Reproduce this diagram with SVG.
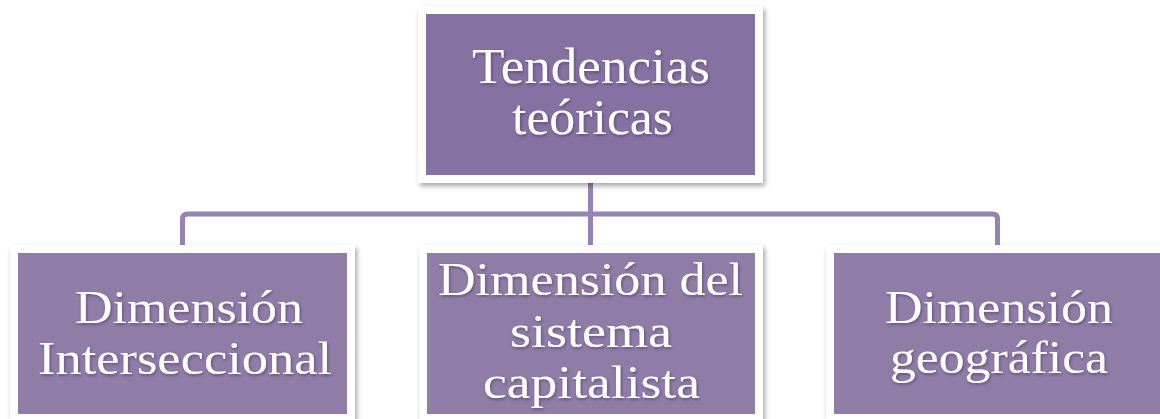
<svg xmlns="http://www.w3.org/2000/svg" width="1160" height="419" viewBox="0 0 1160 419">
  <defs>
    <filter id="boxShadow" x="-10%" y="-10%" width="120%" height="125%">
      <feDropShadow dx="2" dy="3" stdDeviation="2.5" flood-color="#000" flood-opacity="0.35"/>
    </filter>
    <filter id="txtShadow" x="-10%" y="-20%" width="120%" height="150%">
      <feDropShadow dx="1" dy="1.5" stdDeviation="1.5" flood-color="#2a1a40" flood-opacity="0.45"/>
    </filter>
  </defs>
  <style>
    .frame { fill: #ffffff; filter: url(#boxShadow); }
    .top { fill: #8672A2; }
    .bot { fill: #8F7DA8; }
    .lbl { font-family: "Liberation Serif", "Times New Roman", serif; fill: #ffffff; text-anchor: middle; filter: url(#txtShadow); }
    .big { font-size: 50px; }
    .med { font-size: 47px; }
    .conn { fill: none; stroke: #9782B4; stroke-width: 5; }
  </style>
  <rect width="1160" height="419" fill="#ffffff"/>
  <g id="connectors">
    <path class="conn" d="M182.5,245 V219 Q182.5,214 187.5,214 H992.5 Q997.5,214 997.5,219 V245"/>
    <path class="conn" d="M590.5,183 V245"/>
  </g>
  <g id="node-top">
    <rect class="frame" x="418" y="6" width="345" height="177"/>
    <rect class="top" x="426" y="14" width="329" height="161"/>
    <text class="lbl big" x="591" y="83" textLength="238" lengthAdjust="spacingAndGlyphs">Tendencias</text>
    <text class="lbl big" x="592.5" y="134" textLength="161" lengthAdjust="spacingAndGlyphs">teóricas</text>
  </g>
  <g id="node-left">
    <rect class="frame" x="10" y="245" width="345" height="177"/>
    <rect class="bot" x="18" y="253" width="329" height="161"/>
    <text class="lbl med" x="189" y="323" textLength="228" lengthAdjust="spacingAndGlyphs">Dimensión</text>
    <text class="lbl med" x="185" y="374" textLength="294" lengthAdjust="spacingAndGlyphs">Interseccional</text>
  </g>
  <g id="node-middle">
    <rect class="frame" x="419" y="245" width="344" height="177"/>
    <rect class="bot" x="427" y="253" width="328" height="161"/>
    <text class="lbl med" x="590.5" y="295" textLength="305" lengthAdjust="spacingAndGlyphs">Dimensión del</text>
    <text class="lbl med" x="591" y="347" textLength="162" lengthAdjust="spacingAndGlyphs">sistema</text>
    <text class="lbl med" x="591.5" y="398" textLength="217" lengthAdjust="spacingAndGlyphs">capitalista</text>
  </g>
  <g id="node-right">
    <rect class="frame" x="826" y="245" width="345" height="177"/>
    <rect class="bot" x="834" y="253" width="330" height="161"/>
    <text class="lbl med" x="999" y="323" textLength="228" lengthAdjust="spacingAndGlyphs">Dimensión</text>
    <text class="lbl med" x="999" y="373" textLength="218" lengthAdjust="spacingAndGlyphs">geográfica</text>
  </g>
</svg>
